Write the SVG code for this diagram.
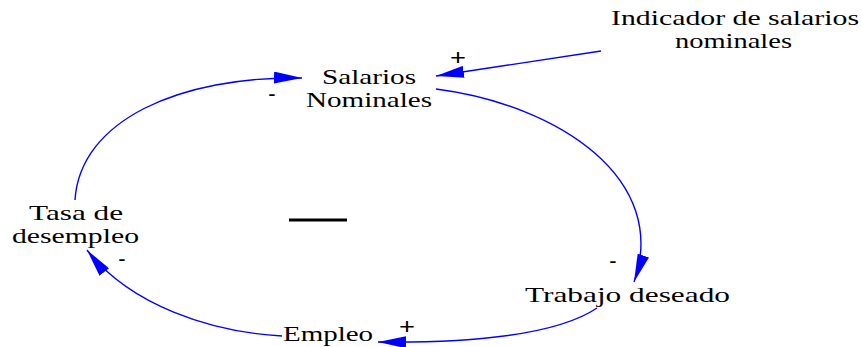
<svg xmlns="http://www.w3.org/2000/svg" width="862" height="347" viewBox="0 0 862 347">
<style>
.lbl{font-family:"Liberation Serif","Times New Roman",serif;font-size:22px;fill:#000;text-anchor:middle}
.sgn{font-family:"Liberation Sans",Arial,sans-serif;font-size:22px;fill:#000;text-anchor:middle}
.edge{fill:none;stroke:#0000ff;stroke-width:1.4;marker-end:url(#arr)}
</style>
<defs>
<marker id="arr" viewBox="0 0 28 12" refX="28" refY="6" markerWidth="28" markerHeight="12" markerUnits="userSpaceOnUse" orient="auto">
<path d="M0,0 L28,6 L0,12 z" fill="#0000ff"/>
</marker>
</defs>
<rect width="862" height="347" fill="#fff"/>
<g id="connectors">
<path class="edge" d="M601,51 L436,76"/>
<path class="edge" d="M436,89 C560,105 670,180 634,282"/>
<path class="edge" d="M597,308 C560,333 480,343 378,342"/>
<path class="edge" d="M282,336 C210,332 130,305 87,250"/>
<path class="edge" d="M75,200 C80,120 180,76 302,78"/>
<text class="sgn" x="458" y="65" textLength="16" lengthAdjust="spacingAndGlyphs">+</text>
<text class="sgn" x="613" y="268">-</text>
<text class="sgn" x="407" y="334" textLength="16" lengthAdjust="spacingAndGlyphs">+</text>
<text class="sgn" x="122" y="266">-</text>
<text class="sgn" x="272" y="101">-</text>
</g>
<g id="salarios">
<text class="lbl" x="369" y="84" textLength="94" lengthAdjust="spacingAndGlyphs">Salarios</text>
<text class="lbl" x="369" y="107" textLength="126" lengthAdjust="spacingAndGlyphs">Nominales</text>
</g>
<g id="indicador">
<text class="lbl" x="735" y="25" textLength="248" lengthAdjust="spacingAndGlyphs">Indicador de salarios</text>
<text class="lbl" x="733.5" y="48" textLength="117" lengthAdjust="spacingAndGlyphs">nominales</text>
</g>
<g id="tasa">
<text class="lbl" x="76" y="220" textLength="94" lengthAdjust="spacingAndGlyphs">Tasa de</text>
<text class="lbl" x="75.5" y="243" textLength="127" lengthAdjust="spacingAndGlyphs">desempleo</text>
</g>
<g id="trabajo">
<text class="lbl" x="627.5" y="302" textLength="205" lengthAdjust="spacingAndGlyphs">Trabajo deseado</text>
</g>
<g id="empleo">
<text class="lbl" x="328" y="341" textLength="90" lengthAdjust="spacingAndGlyphs">Empleo</text>
</g>
<g id="loop">
<line x1="289" y1="220" x2="347" y2="220" stroke="#000" stroke-width="3"/>
</g>
</svg>
